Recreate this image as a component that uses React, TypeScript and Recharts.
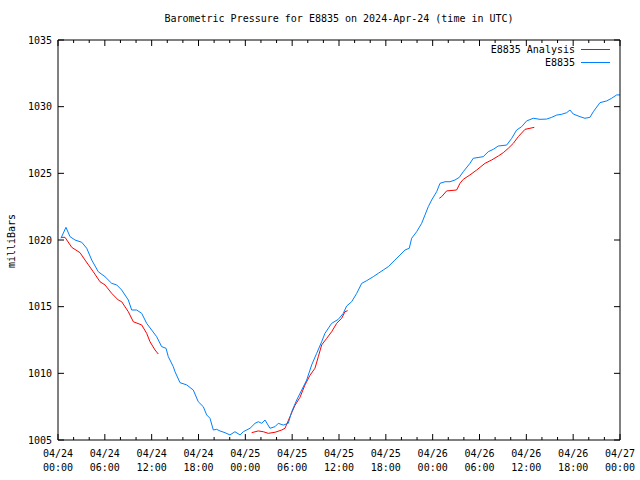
import React from 'react';
import { LineChart, Line, XAxis, YAxis } from 'recharts';

const TITLE = 'Barometric Pressure for E8835 on 2024-Apr-24 (time in UTC)';
const Y_LABEL = 'milliBars';
const SERIES_ANALYSIS = 'E8835 Analysis';
const SERIES_STATION = 'E8835';

// hours since 2024-04-24 00:00 UTC
const X_TICKS = [0, 2, 4, 6, 8, 10, 12, 14, 16, 18, 20, 22, 24, 26, 28, 30, 32, 34, 36, 38, 40, 42, 44, 46, 48, 50, 52, 54, 56, 58, 60, 62, 64, 66, 68, 70, 72];
const Y_TICKS = [1005, 1010, 1015, 1020, 1025, 1030, 1035];

const STATION_HOURS = [
  0.38, 1.02, 1.54, 2.18, 3.04, 3.68, 4.32, 5.16, 6.02, 6.88,
  7.52, 8.16, 9.01, 9.44, 10.08, 10.72, 11.36, 12.0, 12.64, 13.28,
  13.84, 14.13, 14.77, 14.99, 15.63, 16.49, 17.33, 17.97, 18.61, 19.05,
  19.47, 19.9, 20.33, 20.75, 21.39, 22.03, 22.67, 23.32, 23.74, 24.6,
  25.24, 25.66, 26.1, 26.52, 27.16, 27.8, 28.22, 28.86, 29.5, 29.94,
  30.58, 31.22, 31.86, 32.5, 33.14, 33.78, 34.2, 35.06, 35.91, 36.55,
  36.98, 37.62, 38.27, 38.91, 39.55, 40.39, 41.03, 41.67, 42.31, 43.17,
  43.81, 44.45, 45.0, 45.31, 45.95, 46.59, 47.02, 47.44, 47.87, 48.51,
  48.94, 49.58, 50.22, 50.86, 51.41, 51.92, 52.78, 53.2, 54.48, 55.12,
  55.76, 56.41, 57.48, 58.12, 58.76, 59.4, 60.04, 60.89, 61.75, 62.6,
  63.25, 63.89, 64.53, 65.17, 65.59, 66.01, 66.87, 67.51, 68.15, 68.58,
  69.22, 69.43, 70.29, 70.93, 71.57, 72.0,
];
const STATION_PRESSURE = [
  1020.13, 1020.95, 1020.25, 1020.0, 1019.83, 1019.38, 1018.5, 1017.62, 1017.25, 1016.75,
  1016.63, 1016.25, 1015.5, 1014.75, 1014.75, 1014.5, 1013.75, 1013.25, 1012.75, 1012.0,
  1011.88, 1011.25, 1010.5, 1010.12, 1009.3, 1009.13, 1008.75, 1007.87, 1007.5, 1006.88,
  1006.63, 1005.75, 1005.8, 1005.68, 1005.55, 1005.38, 1005.62, 1005.38, 1005.62, 1005.88,
  1006.25, 1006.37, 1006.25, 1006.5, 1005.88, 1006.0, 1006.25, 1006.12, 1006.25, 1007.12,
  1008.0, 1008.75, 1009.5, 1010.63, 1011.5, 1012.37, 1013.0, 1013.75, 1014.05, 1014.5,
  1015.05, 1015.37, 1016.0, 1016.75, 1016.95, 1017.25, 1017.5, 1017.75, 1018.0, 1018.5,
  1018.87, 1019.25, 1019.38, 1020.13, 1020.62, 1021.25, 1021.88, 1022.5, 1023.0, 1023.62,
  1024.25, 1024.37, 1024.37, 1024.5, 1024.7, 1025.12, 1025.75, 1026.13, 1026.25, 1026.62,
  1026.8, 1027.05, 1027.12, 1027.62, 1028.25, 1028.5, 1028.93, 1029.13, 1029.05, 1029.07,
  1029.2, 1029.37, 1029.43, 1029.55, 1029.75, 1029.45, 1029.25, 1029.13, 1029.2, 1029.62,
  1030.13, 1030.3, 1030.43, 1030.63, 1030.88, 1030.88,
];

// null entries break the analysis line into its separate runs
const ANALYSIS_HOURS = [
  0.38, 0.9, 1.76, 2.82, 3.46, 4.52, 5.38, 6.02, 6.88, 7.72, 8.16, 9.01, 9.65, 10.72, 11.36, 11.79, 12.43, 12.85,
  18,
  24.81, 25.66, 26.3, 26.94, 27.8, 28.66, 29.08, 29.72, 30.36, 31.0, 31.64, 32.28, 32.92, 33.35, 33.78, 34.42, 35.06, 35.7, 36.34, 36.77, 37.11,
  43,
  48.85, 49.15, 49.79, 51.07, 51.5, 51.92, 52.78, 53.64, 54.7, 55.56, 56.41, 57.05, 57.69, 58.33, 58.97, 59.83, 60.47, 61.02,
];
const ANALYSIS_PRESSURE: (number | null)[] = [
  1020.2, 1020.2, 1019.45, 1019.05, 1018.5, 1017.62, 1016.87, 1016.63, 1016.0, 1015.5, 1015.37, 1014.62, 1013.87, 1013.63, 1013.0, 1012.37, 1011.75, 1011.45,
  null,
  1005.55, 1005.68, 1005.62, 1005.5, 1005.58, 1005.75, 1005.88, 1006.75, 1007.6, 1008.2, 1009.13, 1009.85, 1010.38, 1011.25, 1012.13, 1012.62, 1013.12, 1013.75, 1014.13, 1014.62, 1014.7,
  null,
  1023.13, 1023.25, 1023.68, 1023.75, 1024.25, 1024.55, 1024.88, 1025.25, 1025.75, 1026.0, 1026.3, 1026.55, 1026.88, 1027.25, 1027.75, 1028.3, 1028.38, 1028.45,
];

const RED = '#ff0000';
const BLUE = '#0080ff';
const FONT = '"DejaVu Sans Mono", monospace';

const stationData = STATION_HOURS.map((t, i) => ({ t, p: STATION_PRESSURE[i] }));
const analysisData = ANALYSIS_HOURS.map((t, i) => ({ t, p: ANALYSIS_PRESSURE[i] }));

const pad = (n: number) => (n < 10 ? '0' + n : '' + n);

const BottomTick = (props: any) => {
  const { x, y, payload } = props;
  const h = payload.value as number;
  const major = h % 6 === 0;
  const len = major ? 6 : 3;
  const day = 24 + Math.floor(h / 24);
  const hr = h % 24;
  return (
    <g>
      <line x1={x} y1={y} x2={x} y2={y - len} stroke="#000" strokeWidth={1} />
      {major && (
        <text x={x} y={y} textAnchor="middle" fontFamily={FONT} fontSize={10} fill="#000">
          <tspan x={x} dy={17}>{`04/${pad(day)}`}</tspan>
          <tspan x={x} dy={14}>{`${pad(hr)}:00`}</tspan>
        </text>
      )}
    </g>
  );
};

const TopTick = (props: any) => {
  const { x, y, payload } = props;
  const h = payload.value as number;
  const len = h % 6 === 0 ? 6 : 3;
  return <line x1={x} y1={y} x2={x} y2={y + len} stroke="#000" strokeWidth={1} />;
};

const LeftTick = (props: any) => {
  const { x, y, payload } = props;
  return (
    <g>
      <line x1={x} y1={y} x2={x + 6} y2={y} stroke="#000" strokeWidth={1} />
      <text x={x - 6} y={y} dy={3.5} textAnchor="end" fontFamily={FONT} fontSize={10} fill="#000">
        {payload.value}
      </text>
    </g>
  );
};

const RightTick = (props: any) => {
  const { x, y } = props;
  return <line x1={x} y1={y} x2={x - 6} y2={y} stroke="#000" strokeWidth={1} />;
};

export default function App() {
  return (
    <div style={{ position: 'absolute', left: 0, top: 0, width: 640, height: 480, background: '#fff', fontFamily: FONT }}>
      <LineChart width={640} height={480} margin={{ top: 39, right: 19, bottom: 0, left: 8 }}>
        <XAxis
          xAxisId="bottom"
          type="number"
          dataKey="t"
          domain={[0, 72]}
          ticks={X_TICKS}
          interval={0}
          height={40}
          tickSize={0}
          tickMargin={0}
          tickLine={false}
          tick={<BottomTick />}
          axisLine={{ stroke: '#000' }}
          allowDataOverflow
        />
        <XAxis
          xAxisId="top"
          orientation="top"
          type="number"
          dataKey="t"
          domain={[0, 72]}
          ticks={X_TICKS}
          interval={0}
          height={1}
          tickSize={0}
          tickMargin={0}
          tickLine={false}
          tick={<TopTick />}
          axisLine={{ stroke: '#000' }}
          allowDataOverflow
        />
        <YAxis
          yAxisId="left"
          type="number"
          domain={[1005, 1035]}
          ticks={Y_TICKS}
          interval={0}
          width={50}
          tickSize={0}
          tickMargin={0}
          tickLine={false}
          tick={<LeftTick />}
          axisLine={{ stroke: '#000' }}
          allowDataOverflow
        />
        <YAxis
          yAxisId="right"
          orientation="right"
          type="number"
          domain={[1005, 1035]}
          ticks={Y_TICKS}
          interval={0}
          width={1}
          tickSize={0}
          tickMargin={0}
          tickLine={false}
          tick={<RightTick />}
          axisLine={{ stroke: '#000' }}
          allowDataOverflow
        />
        {/* invisible copy bound to the mirrored axes so they are drawn */}
        <Line
          xAxisId="top"
          yAxisId="right"
          data={stationData}
          dataKey="p"
          type="linear"
          stroke="none"
          strokeOpacity={0}
          dot={false}
          activeDot={false}
          legendType="none"
          isAnimationActive={false}
        />
        <Line
          xAxisId="bottom"
          yAxisId="left"
          data={analysisData}
          dataKey="p"
          name={SERIES_ANALYSIS}
          type="linear"
          stroke={RED}
          strokeWidth={1}
          dot={false}
          activeDot={false}
          connectNulls={false}
          isAnimationActive={false}
        />
        <Line
          xAxisId="bottom"
          yAxisId="left"
          data={stationData}
          dataKey="p"
          name={SERIES_STATION}
          type="linear"
          stroke={BLUE}
          strokeWidth={1}
          dot={false}
          activeDot={false}
          isAnimationActive={false}
        />
      </LineChart>

      <div style={{ position: 'absolute', left: 0, width: 678, top: 13, fontSize: 10, lineHeight: '12px', textAlign: 'center', color: '#000', whiteSpace: 'pre' }}>
        {TITLE}
      </div>

      <div
        style={{
          position: 'absolute', left: 12 - 40, top: 241 - 6, width: 80, height: 12,
          fontSize: 10, lineHeight: '12px', textAlign: 'center', color: '#000',
          transform: 'rotate(-90deg)', transformOrigin: '40px 6px',
        }}
      >
        {Y_LABEL}
      </div>

      <div style={{ position: 'absolute', right: 30, top: 43, fontSize: 10, lineHeight: '13px', color: '#000' }}>
        {[{ name: SERIES_ANALYSIS, color: RED }, { name: SERIES_STATION, color: BLUE }].map((s) => (
          <div key={s.name} style={{ display: 'flex', alignItems: 'center', justifyContent: 'flex-end', height: 13 }}>
            <span style={{ whiteSpace: 'pre' }}>{s.name}</span>
            <span style={{ display: 'inline-block', width: 29, height: 0, borderTop: `1px solid ${s.color}`, marginLeft: 6 }} />
          </div>
        ))}
      </div>
    </div>
  );
}
